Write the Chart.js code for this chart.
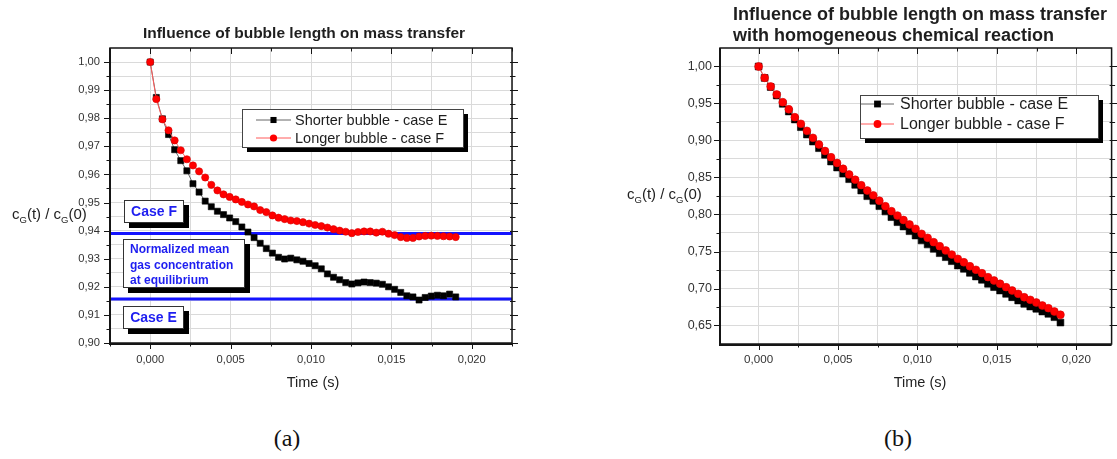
<!DOCTYPE html>
<html>
<head>
<meta charset="utf-8">
<script src="https://cdn.jsdelivr.net/npm/chart.js"></script>
<style>
  html, body { margin: 0; padding: 0; background: #fff; }
  body { width: 1117px; height: 459px; position: relative; overflow: hidden; font-family: 'Liberation Sans', Arial, sans-serif; color: #222; }
  canvas { position: absolute; top: 0; }
  #chartA { left: 0; }
  #chartB { left: 600px; }
  .txt { position: absolute; white-space: nowrap; }
  .title { font-weight: bold; color: #1e1e1e; }
  .sub { font-size: 9.5px; position: relative; top: 4px; }
  .note { position: absolute; box-sizing: border-box; background: #fff; border: 1px solid #333;
          box-shadow: 5px 5px 0 #000; color: #1e1ef0; font-weight: bold; white-space: nowrap; }
  .panel { position: absolute; font-family: 'Liberation Serif', 'DejaVu Serif', serif; font-size: 24px;
           line-height: 24px; width: 100px; text-align: center; color: #111; }
</style>
</head>
<body>
<canvas id="chartA" width="560" height="400"></canvas>
<canvas id="chartB" width="517" height="400"></canvas>

<div class="txt title" style="left:104px; width:400px; top:23px; text-align:center; font-size:15.5px; line-height:20px;">Influence of bubble length on mass transfer</div>
<div class="txt title" style="left:733px; top:4px; font-size:18px; line-height:21px;">Influence of bubble length on mass transfer<br>with homogeneous chemical reaction</div>

<div class="txt" style="left:12px; top:204px; font-size:15px; line-height:20px;">c<span class="sub">G</span>(t) / c<span class="sub">G</span>(0)</div>
<div class="txt" style="left:627px; top:184px; font-size:15px; line-height:20px;">c<span class="sub">G</span>(t) / c<span class="sub">G</span>(0)</div>

<div class="txt" style="left:213px; width:200px; top:373px; text-align:center; font-size:14.5px; line-height:18px;">Time (s)</div>
<div class="txt" style="left:820px; width:200px; top:373px; text-align:center; font-size:14.5px; line-height:18px;">Time (s)</div>

<div class="note" style="left:124px; top:200px; width:60px; height:23px; font-size:14px; line-height:21px; text-align:center;">Case F</div>
<div class="note" style="left:123px; top:239px; width:122px; height:49px; font-size:12px; line-height:15.5px; padding:2px 0 0 6px;">Normalized mean<br>gas concentration<br>at equilibrium</div>
<div class="note" style="left:123px; top:306px; width:61px; height:23px; font-size:14px; line-height:21px; text-align:center;">Case E</div>

<div class="panel" style="left:237px; top:426px;">(a)</div>
<div class="panel" style="left:848px; top:426px;">(b)</div>

<script>
// Sampling instants (s), shared by both simulations
const timeS = [0, 0.00038, 0.00076, 0.00114, 0.00152, 0.0019, 0.00228, 0.00266, 0.00304, 0.00342,
  0.0038, 0.00418, 0.00456, 0.00494, 0.00532, 0.0057, 0.00608, 0.00646, 0.00684, 0.00722,
  0.0076, 0.00798, 0.00836, 0.00874, 0.00912, 0.0095, 0.00988, 0.01026, 0.01064, 0.01102,
  0.0114, 0.01178, 0.01216, 0.01254, 0.01292, 0.0133, 0.01368, 0.01406, 0.01444, 0.01482,
  0.0152, 0.01558, 0.01596, 0.01634, 0.01672, 0.0171, 0.01748, 0.01786, 0.01824, 0.01862, 0.019];

// (a) pure mass transfer: normalized mean gas concentration
const shorterA = [1.0000, 0.9874, 0.9798, 0.9742, 0.9688, 0.9649, 0.9613, 0.9567, 0.9537, 0.9505,
  0.9485, 0.9469, 0.9457, 0.9445, 0.9432, 0.9413, 0.9395, 0.9375, 0.9355, 0.9336,
  0.9320, 0.9305, 0.9299, 0.9302, 0.9296, 0.9291, 0.9283, 0.9275, 0.9264, 0.9246,
  0.9234, 0.9225, 0.9215, 0.9210, 0.9214, 0.9217, 0.9215, 0.9213, 0.9209, 0.9200,
  0.9191, 0.9180, 0.9168, 0.9164, 0.9153, 0.9162, 0.9167, 0.9170, 0.9168, 0.9174, 0.9164];
const longerA = [1.0000, 0.9868, 0.9796, 0.9757, 0.9721, 0.9686, 0.9654, 0.9632, 0.9611, 0.9589,
  0.9563, 0.9543, 0.9529, 0.9520, 0.9511, 0.9502, 0.9493, 0.9486, 0.9473, 0.9466,
  0.9454, 0.9446, 0.9441, 0.9436, 0.9434, 0.9430, 0.9425, 0.9420, 0.9416, 0.9411,
  0.9405, 0.9400, 0.9396, 0.9391, 0.9395, 0.9397, 0.9397, 0.9393, 0.9396, 0.9389,
  0.9384, 0.9377, 0.9374, 0.9374, 0.9379, 0.9381, 0.9382, 0.9381, 0.9380, 0.9379, 0.9377];
// Equilibrium levels: case F, case E
const equilibriumA = [0.939, 0.9157];

// (b) with homogeneous chemical reaction
const shorterB = [1.0000, 0.9845, 0.9723, 0.9608, 0.9496, 0.9392, 0.9284, 0.9180, 0.9081, 0.8986,
  0.8896, 0.8807, 0.8716, 0.8635, 0.8554, 0.8477, 0.8401, 0.8324, 0.8247, 0.8185,
  0.8112, 0.8041, 0.7964, 0.7896, 0.7838, 0.7774, 0.7716, 0.7649, 0.7595, 0.7536,
  0.7477, 0.7423, 0.7369, 0.7311, 0.7266, 0.7212, 0.7162, 0.7118, 0.7064, 0.7018,
  0.6973, 0.6928, 0.6882, 0.6838, 0.6793, 0.6757, 0.6726, 0.6689, 0.6658, 0.6612, 0.6540];
const longerB = [1.0000, 0.9847, 0.9730, 0.9622, 0.9518, 0.9422, 0.9315, 0.9226, 0.9131, 0.9036,
  0.8946, 0.8858, 0.8774, 0.8696, 0.8618, 0.8541, 0.8470, 0.8396, 0.8324, 0.8259,
  0.8186, 0.8112, 0.8045, 0.7986, 0.7926, 0.7865, 0.7807, 0.7739, 0.7685, 0.7626,
  0.7572, 0.7514, 0.7459, 0.7401, 0.7355, 0.7301, 0.7253, 0.7207, 0.7153, 0.7108,
  0.7064, 0.7018, 0.6973, 0.6928, 0.6882, 0.6847, 0.6811, 0.6770, 0.6734, 0.6689, 0.6645];

// Tick positions (every tick gets a grid line; the majors also get a label)
const xTicksA = [-0.0025, 0, 0.0025, 0.005, 0.0075, 0.01, 0.0125, 0.015, 0.0175, 0.02, 0.0225];
const xTicksB = [0, 0.0025, 0.005, 0.0075, 0.01, 0.0125, 0.015, 0.0175, 0.02];
const xLabelled = [0, 0.005, 0.01, 0.015, 0.02];
const yTicksA = [0.90, 0.905, 0.91, 0.915, 0.92, 0.925, 0.93, 0.935, 0.94, 0.945, 0.95,
  0.955, 0.96, 0.965, 0.97, 0.975, 0.98, 0.985, 0.99, 0.995, 1.00];
const yLabelledA = [0.90, 0.91, 0.92, 0.93, 0.94, 0.95, 0.96, 0.97, 0.98, 0.99, 1.00];
const yTicksB = [0.65, 0.675, 0.70, 0.725, 0.75, 0.775, 0.80, 0.825, 0.85, 0.875, 0.90,
  0.925, 0.95, 0.975, 1.00];
const yLabelledB = [0.65, 0.70, 0.75, 0.80, 0.85, 0.90, 0.95, 1.00];

const seriesNames = ['Shorter bubble - case E', 'Longer bubble - case F'];

const FONT = "'Liberation Sans', Arial, sans-serif";
const has = (list, v) => list.some(u => Math.abs(u - v) < 1e-9);
const comma = (v, d) => (Math.abs(v) < 1e-12 ? 0 : v).toFixed(d).replace('.', ',');
const pairs = (xs, ys) => xs.map((x, i) => ({ x, y: ys[i] }));

// Outer frame plus outward tick marks (long for labelled ticks, short otherwise)
const frameTicks = {
  id: 'frameTicks',
  afterDraw(chart, args, o) {
    const { ctx, chartArea: a } = chart;
    const xs = chart.scales.x, ys = chart.scales.y;
    ctx.save();
    ctx.strokeStyle = '#151515';
    ctx.lineWidth = 1;
    ctx.beginPath();
    xs.ticks.forEach(t => {
      const p = Math.round(xs.getPixelForValue(t.value)) + 0.5;
      const len = has(o.xMajor, t.value) ? 6 : 3.5;
      ctx.moveTo(p, a.bottom); ctx.lineTo(p, a.bottom + len);
      ctx.moveTo(p, a.top); ctx.lineTo(p, a.top + len);
    });
    ys.ticks.forEach(t => {
      const p = Math.round(ys.getPixelForValue(t.value)) + 0.5;
      const len = has(o.yMajor, t.value) ? 6 : 3.5;
      ctx.moveTo(a.left - len, p); ctx.lineTo(a.left, p);
      ctx.moveTo(a.right - 2, p); ctx.lineTo(a.right + len, p);
    });
    ctx.stroke();
    ctx.lineWidth = 1.5;
    ctx.strokeRect(a.left, a.top, a.right - a.left, a.bottom - a.top);
    ctx.lineWidth = 2;
    ctx.beginPath();
    ctx.moveTo(a.left, a.top); ctx.lineTo(a.left, a.bottom + 1); ctx.lineTo(a.right, a.bottom + 1);
    ctx.stroke();
    ctx.restore();
  }
};

// Boxed legend with a solid drop shadow, drawn from the datasets' own styles
const boxLegend = {
  id: 'boxLegend',
  afterDraw(chart, args, o) {
    const ctx = chart.ctx;
    ctx.save();
    ctx.fillStyle = '#000';
    ctx.fillRect(o.x + 5, o.y + 5, o.w, o.h);
    ctx.fillStyle = '#fff';
    ctx.fillRect(o.x, o.y, o.w, o.h);
    ctx.strokeStyle = '#444';
    ctx.lineWidth = 1;
    ctx.strokeRect(o.x + 0.5, o.y + 0.5, o.w, o.h);
    chart.data.datasets.forEach(ds => {
      const k = seriesNames.indexOf(ds.label);
      if (k < 0) return;
      const yy = o.y + o.rows[k];
      ctx.strokeStyle = ds.borderColor;
      ctx.lineWidth = 1;
      ctx.beginPath();
      ctx.moveTo(o.lineFrom, yy); ctx.lineTo(o.lineTo, yy);
      ctx.stroke();
      const mx = (o.lineFrom + o.lineTo) / 2;
      ctx.fillStyle = ds.pointBackgroundColor;
      if (ds.pointStyle === 'rect') {
        const s = ds.pointRadius * Math.SQRT1_2;
        ctx.fillRect(mx - s, yy - s, 2 * s, 2 * s);
      } else {
        ctx.beginPath();
        ctx.arc(mx, yy, ds.pointRadius, 0, Math.PI * 2);
        ctx.fill();
      }
      ctx.fillStyle = '#1e1e1e';
      ctx.font = o.fontSize + 'px ' + FONT;
      ctx.textBaseline = 'middle';
      ctx.fillText(ds.label, o.textX, yy + 1);
    });
    ctx.restore();
  }
};

function seriesSets(shorter, longer, sq, rad) {
  return [
    { label: seriesNames[1], data: pairs(timeS, longer), order: 0,
      borderColor: '#ff5a5a', borderWidth: 1, pointStyle: 'circle', pointRadius: rad,
      pointBackgroundColor: '#ff0000', pointBorderColor: '#d80000', pointBorderWidth: 0.6 },
    { label: seriesNames[0], data: pairs(timeS, shorter), order: 1,
      borderColor: '#666666', borderWidth: 1, pointStyle: 'rect', pointRadius: sq,
      pointBackgroundColor: '#000000', pointBorderColor: '#000000', pointBorderWidth: 0.6 }
  ];
}

function axisOpts(cfg) {
  return {
    x: {
      type: 'linear', min: cfg.xMin, max: cfg.xMax,
      afterBuildTicks: s => { s.ticks = cfg.xTicks.map(v => ({ value: v })); },
      afterFit: s => { s.height = cfg.xHeight; },
      grid: { color: '#dadada', lineWidth: 1, drawTicks: false },
      border: { display: false },
      ticks: { autoSkip: false, maxRotation: 0, padding: cfg.xPad, color: '#333',
               font: { family: FONT, size: cfg.xFont },
               callback: v => has(xLabelled, v) ? comma(v, 3) : '' }
    },
    y: {
      type: 'linear', min: cfg.yMin, max: cfg.yMax,
      afterBuildTicks: s => { s.ticks = cfg.yTicks.map(v => ({ value: v })); },
      afterFit: s => { s.width = cfg.yWidth; },
      grid: { color: '#dadada', lineWidth: 1, drawTicks: false },
      border: { display: false },
      ticks: { autoSkip: false, padding: cfg.yPad, color: '#333',
               font: { family: FONT, size: cfg.yFont },
               callback: v => has(cfg.yLabelled, v) ? comma(v, 2) : '' }
    }
  };
}

const common = {
  responsive: false, animation: false, events: [],
  plugins: { legend: { display: false }, tooltip: { enabled: false }, title: { display: false } }
};

// (a) Influence of bubble length on mass transfer
const equilibriumSets = equilibriumA.map((v, i) => ({
  label: 'equilibrium ' + i, data: [{ x: -0.0025, y: v }, { x: 0.0225, y: v }], order: 3,
  borderColor: '#1414ff', borderWidth: 3, pointRadius: 0
}));

new Chart(document.getElementById('chartA'), {
  type: 'line',
  data: { datasets: [...seriesSets(shorterA, longerA, 4.3, 3.6), ...equilibriumSets] },
  options: {
    ...common,
    layout: { padding: { left: 0, top: 48, right: 48, bottom: 0 } },
    scales: axisOpts({ xMin: -0.0025, xMax: 0.0225, xTicks: xTicksA, xHeight: 57, xPad: 10, xFont: 11.2,
                       yMin: 0.90, yMax: 1.005, yTicks: yTicksA, yLabelled: yLabelledA,
                       yWidth: 110, yPad: 10, yFont: 11.2 }),
    plugins: { ...common.plugins,
      frameTicks: { xMajor: xLabelled, yMajor: yLabelledA },
      boxLegend: { x: 242, y: 109, w: 221, h: 38, rows: [11, 29], lineFrom: 256, lineTo: 291,
                   textX: 295, fontSize: 14.5 } }
  },
  plugins: [frameTicks, boxLegend]
});

// (b) Same comparison with a homogeneous chemical reaction
new Chart(document.getElementById('chartB'), {
  type: 'line',
  data: { datasets: seriesSets(shorterB, longerB, 4.8, 3.9) },
  options: {
    ...common,
    layout: { padding: { left: 0, top: 48, right: 2, bottom: 0 } },
    scales: axisOpts({ xMin: -0.00243, xMax: 0.02222, xTicks: xTicksB, xHeight: 56, xPad: 9, xFont: 11.6,
                       yMin: 0.625, yMax: 1.025, yTicks: yTicksB, yLabelled: yLabelledB,
                       yWidth: 120, yPad: 8, yFont: 12.5 }),
    plugins: { ...common.plugins,
      frameTicks: { xMajor: xLabelled, yMajor: yLabelledB },
      boxLegend: { x: 260, y: 95, w: 238, h: 43, rows: [9, 29], lineFrom: 261, lineTo: 294,
                   textX: 300, fontSize: 16 } }
  },
  plugins: [frameTicks, boxLegend]
});
</script>
</body>
</html>
